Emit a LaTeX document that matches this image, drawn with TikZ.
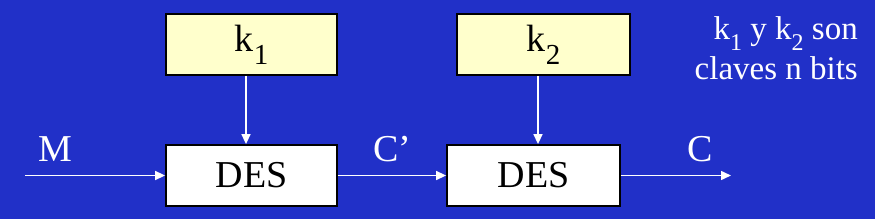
\documentclass[tikz,border=0pt]{standalone}
\usepackage{fontspec}
\setmainfont{Liberation Serif}
\usetikzlibrary{arrows.meta}
\definecolor{bg}{RGB}{33,48,200}
\definecolor{keyfill}{RGB}{255,255,204}
\newcommand{\sbk}[1]{\raisebox{-0.35em}{\fontsize{29}{31}\selectfont #1}}
\newcommand{\sbn}[1]{\raisebox{-0.32em}{\fontsize{24}{26}\selectfont #1}}
\tikzset{
  box/.style={draw=black, line width=1.8pt, minimum width=171pt, minimum height=61pt, inner sep=0pt, font=\fontsize{38}{40}\selectfont},
  keybox/.style={box, fill=keyfill},
  desbox/.style={box, fill=white},
  flow/.style={draw=white, line width=1.5pt, -{Triangle[length=10pt,width=9pt]}},
  lbl/.style={text=white, font=\fontsize{38}{40}\selectfont, inner sep=0pt, anchor=base}
}
\begin{document}
\begin{tikzpicture}[x=1pt,y=1pt]
\fill[bg] (0,0) rectangle (875,-219);
\useasboundingbox (0,0) rectangle (875,-219);
\node[keybox] (k1) at (251.5,-44.5) {k\sbk{1}};
\node[desbox] (d1) at (251.5,-175.5) {DES};
\node[keybox, minimum width=173pt] (k2) at (543.5,-44.5) {k\sbk{2}};
\node[desbox, minimum width=173pt] (d2) at (533.5,-175.5) {DES};
\coordinate (in) at (25,-175.5);
\coordinate (out) at (731,-175.5);
\draw[flow] (in) -- (d1.west);
\draw[flow] (d1.east) -- (d2.west);
\draw[flow] (d2.east) -- (out);
\draw[flow] (k1.south -| 246,0) -- (d1.north -| 246,0);
\draw[flow] (k2.south -| 538,0) -- (d2.north -| 538,0);
\node[lbl] (m) at (55,-161) {M};
\node[lbl] (cp) at (392,-161) {C’};
\node[lbl] (c) at (700,-161) {C};
\node[text=white, font=\fontsize{33}{38}\selectfont, inner sep=0pt, anchor=base east] (note) at (858,-40) {k\sbn{1} y k\sbn{2} son};
\node[text=white, font=\fontsize{33}{38}\selectfont, inner sep=0pt, anchor=base east] (note2) at (858,-80) {claves n bits};
\end{tikzpicture}
\end{document}
